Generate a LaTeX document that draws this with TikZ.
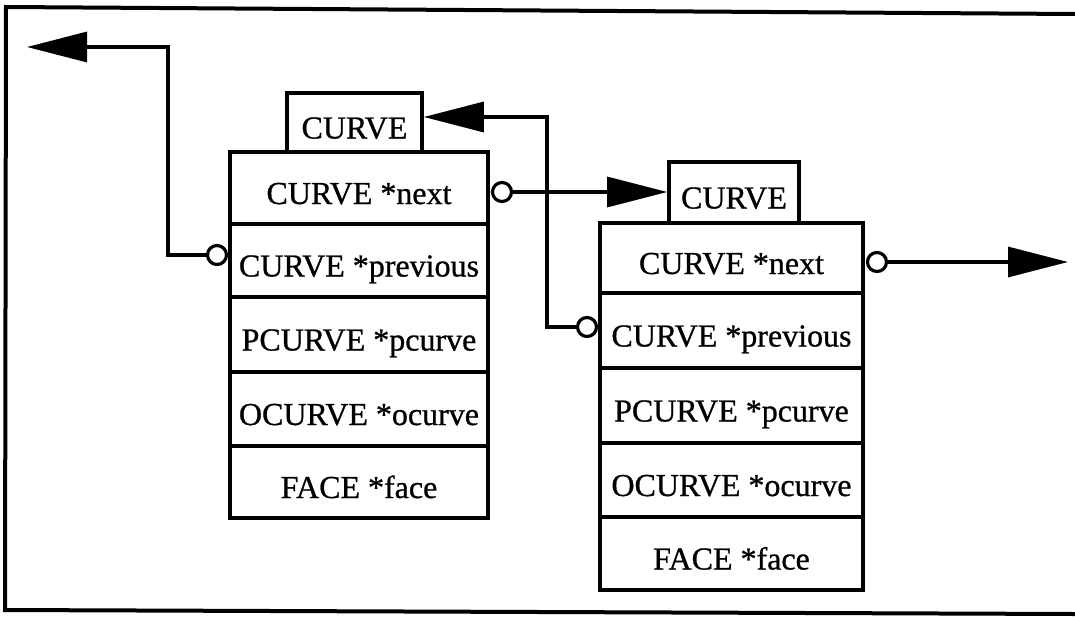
\documentclass[tikz,border=0pt]{standalone}
\usepackage{fontspec}
\setmainfont[FakeBold=0.8]{Liberation Serif}
\usetikzlibrary{arrows.meta,calc}
\begin{document}
\begin{tikzpicture}[x=1pt,y=-1pt,
  row/.style={draw, line width=3.6pt, rectangle, inner sep=0pt, fill=white,
    text height=36pt, text depth=4pt, font=\fontsize{32}{38}\selectfont},
  knob/.style={draw, circle, line width=3.2pt, minimum size=19pt, inner sep=0pt, fill=white},
  arr/.style={line width=3.2pt, -{Triangle[length=60pt,width=30pt]}},
  frame/.style={line width=4pt}]
\useasboundingbox (0,0) rectangle (1075,618);
% outer frame
\draw[frame] (1075,14) -- (6,7) -- (5,610) -- (1075,614);
% title boxes
\node[row, minimum width=135pt, minimum height=59pt] (t1) at (354.5,122.5) {CURVE};
\node[row, minimum width=130pt, minimum height=61pt] (t2) at (734,192.5) {CURVE};
% box 1
\node[row, minimum width=258pt, minimum height=72pt] (a1) at (359,188) {CURVE *next};
\node[row, minimum width=258pt, minimum height=73pt] (a2) at (359,260.5) {CURVE *previous};
\node[row, minimum width=258pt, minimum height=75pt] (a3) at (359,334.5) {PCURVE *pcurve};
\node[row, minimum width=258pt, minimum height=74pt] (a4) at (359,409) {OCURVE *ocurve};
\node[row, minimum width=258pt, minimum height=72pt] (a5) at (359,482) {FACE *face};
% box 2
\node[row, minimum width=263pt, minimum height=70pt] (b1) at (731.5,258) {CURVE *next};
\node[row, minimum width=263pt, minimum height=75pt] (b2) at (731.5,330.5) {CURVE *previous};
\node[row, minimum width=263pt, minimum height=75pt] (b3) at (731.5,405.5) {PCURVE *pcurve};
\node[row, minimum width=263pt, minimum height=74pt] (b4) at (731.5,480) {OCURVE *ocurve};
\node[row, minimum width=263pt, minimum height=73pt] (b5) at (731.5,553.5) {FACE *face};
% knobs
\node[knob] (c1) at (217,255) {};
\node[knob] (c2) at (587,327) {};
\node[knob] (c3) at (502,192) {};
\node[knob] (c4) at (877,262) {};
% free ends and corners
\coordinate (k1) at (168,47);
\coordinate (e1) at (27,47);
\coordinate (k2) at (547,117);
\coordinate (e4) at (1068,262);
% connectors
\draw[arr] (c1.west) -| (k1) -- (e1);
\draw[arr] (c2.west) -| (k2) -- (k2 -| t1.east);
\draw[arr] (c3.east) -- (c3.east -| t2.west);
\draw[arr] (c4.east) -- (e4);
\end{tikzpicture}
\end{document}
